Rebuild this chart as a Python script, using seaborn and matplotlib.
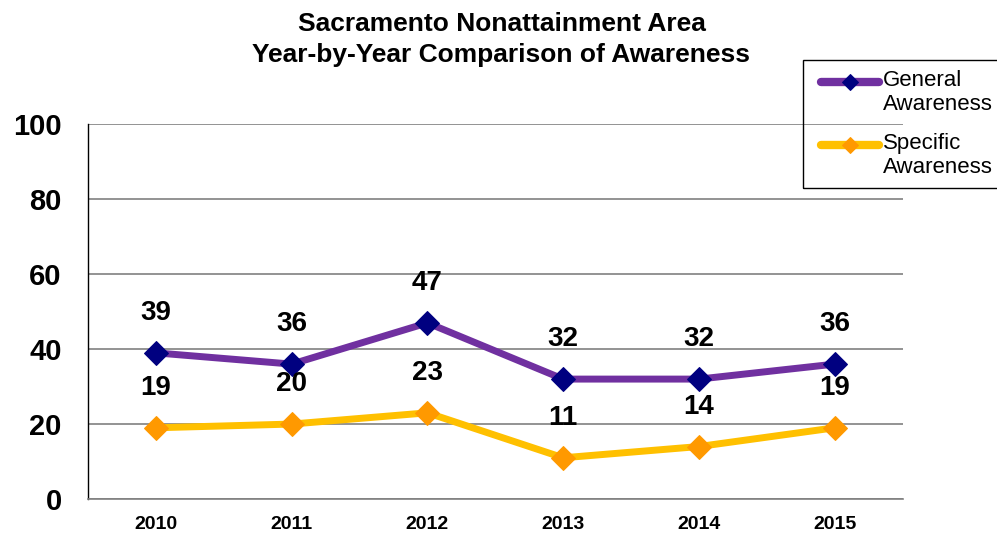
import matplotlib
matplotlib.use("Agg")
import matplotlib.pyplot as plt
from matplotlib.patches import Rectangle
import seaborn as sns
import pandas as pd

years = ["2010", "2011", "2012", "2013", "2014", "2015"]
general = [39, 36, 47, 32, 32, 36]
specific = [19, 20, 23, 11, 14, 19]
y_ticks = [0, 20, 40, 60, 80, 100]

sns.set_theme(style="white")
plt.rcParams["font.family"] = ["Liberation Sans", "DejaVu Sans"]
plt.rcParams["text.color"] = "black"
plt.rcParams["xtick.color"] = "black"
plt.rcParams["ytick.color"] = "black"

df = pd.DataFrame({"Year": years * 2,
                   "Value": general + specific,
                   "Series": ["General\nAwareness"] * 6 + ["Specific\nAwareness"] * 6})
df["x"] = list(range(6)) * 2

fig = plt.figure(figsize=(9.97, 5.33), dpi=100)
ax = fig.add_axes([0.0883, 0.0638, 0.817, 0.703])
ax.set_facecolor("none")

line_colors = {"General\nAwareness": "#7030A0", "Specific\nAwareness": "#FFC000"}
marker_colors = {"General\nAwareness": "#000080", "Specific\nAwareness": "#FF9900"}

for name, sub in df.groupby("Series", sort=False):
    sns.lineplot(data=sub, x="x", y="Value", ax=ax, color=line_colors[name],
                 linewidth=5, marker="D", markersize=12.5,
                 markerfacecolor=marker_colors[name], markeredgecolor=marker_colors[name],
                 label=name, legend=False, zorder=3)
    for xi, v in zip(sub["x"], sub["Value"]):
        ax.text(xi, v + 10.6, str(v), ha="center", va="center",
                fontsize=20, fontweight="bold", color="black", zorder=4)

ax.set_xlim(-0.5, 5.5)
ax.set_ylim(0, 100)
ax.set_yticks(y_ticks)
ax.set_yticklabels([str(t) for t in y_ticks], fontsize=21, fontweight="bold")
ax.set_xticks(range(6))
ax.set_xticklabels(years, fontsize=14, fontweight="bold")
ax.set_xticks([i - 0.5 for i in range(7)], minor=True)
ax.tick_params(axis="x", which="major", length=0, pad=12)
ax.tick_params(axis="x", which="minor", length=5, width=1, color="#404040", direction="out")
ax.tick_params(axis="y", length=7, width=1.2, color="#808080", direction="out", pad=12)
ax.set_xlabel("")
ax.set_ylabel("")
ax.yaxis.grid(True, color="#808080", linewidth=1.2)
ax.set_axisbelow(True)
for s in ["top", "right"]:
    ax.spines[s].set_visible(False)
ax.spines["left"].set_color("black")
ax.spines["left"].set_linewidth(1)
ax.spines["bottom"].set_color("#808080")
ax.spines["bottom"].set_linewidth(1.2)

fig.suptitle("Sacramento Nonattainment Area\nYear-by-Year Comparison of Awareness",
             x=0.503, y=0.978, fontsize=19, fontweight="bold", linespacing=1.38)

# legend box, open on the right side of the figure
fig.add_artist(Rectangle((803 / 997, 1 - 188 / 533), 0.25, 128 / 533,
                         transform=fig.transFigure, facecolor="none",
                         edgecolor="black", linewidth=1, zorder=1))

handles, labels = ax.get_legend_handles_labels()
leg = fig.legend(handles, labels, loc="upper left",
                 bbox_to_anchor=(821 / 997, 1 - 70 / 533),
                 frameon=False, fontsize=16,
                 handlelength=2.6, handletextpad=0.2, labelspacing=0.78,
                 borderpad=0, borderaxespad=0)
# keep each legend key level with the first line of its label
for h in leg.legend_handles:
    h.set_markersize(8)
    h.set_linewidth(6)
    h.set_ydata([y + 7.5 for y in h.get_ydata()])

fig.savefig("out.png", dpi=100)
